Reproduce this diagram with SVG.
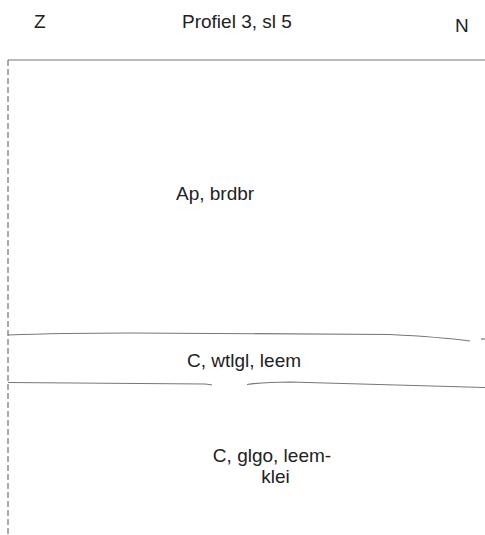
<svg xmlns="http://www.w3.org/2000/svg" width="485" height="535" viewBox="0 0 485 535">
<style>
text{font-family:"Liberation Sans",Arial,sans-serif;font-size:19px;fill:#222}
.ln{fill:none;stroke:#777;stroke-width:1.2}
.dash{fill:none;stroke:#555;stroke-width:1;stroke-dasharray:6,3}
</style>
<rect width="485" height="535" fill="#fff"/>
<g id="header">
<text x="34" y="28">Z</text>
<text x="182" y="28">Profiel 3, sl 5</text>
<text x="455" y="32">N</text>
</g>
<g id="connectors">
<line class="ln" x1="8" y1="60" x2="485" y2="60"/>
<line class="dash" x1="8" y1="60" x2="8" y2="535"/>
<path class="ln" d="M8,335 Q60,333 130,333 L390,334.5 Q440,337 470,341"/>
<path class="ln" d="M481,339 L485,339"/>
<path class="ln" d="M8,382.5 L205,384 Q210,384.5 212,385"/>
<path class="ln" d="M247,384.5 Q265,382 290,382 L485,387.5"/>
</g>
<g id="ap"><text x="176" y="200">Ap, brdbr</text></g>
<g id="c1"><text x="187" y="367">C, wtlgl, leem</text></g>
<g id="c2"><text x="272" y="462" text-anchor="middle">C, glgo, leem-</text><text x="275.5" y="483" text-anchor="middle">klei</text></g>
</svg>
